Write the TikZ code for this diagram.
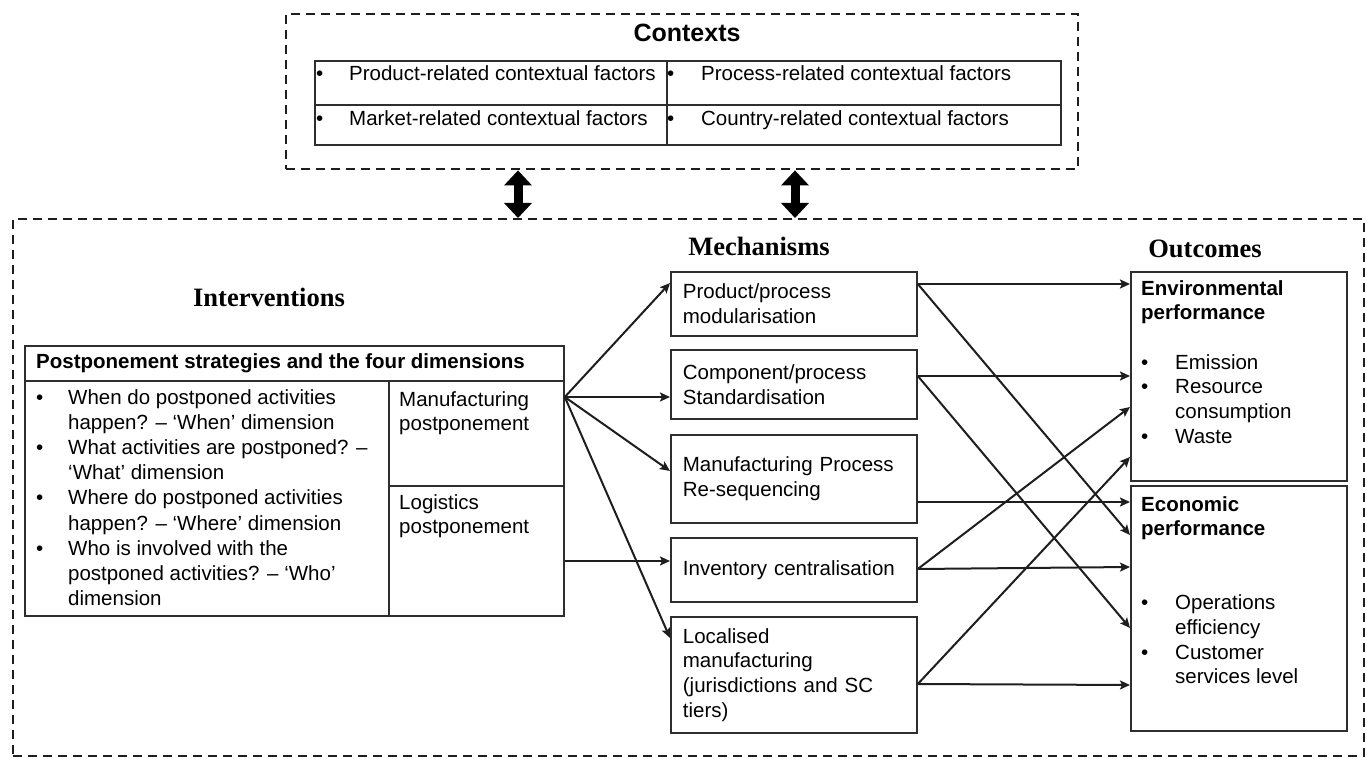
\documentclass[tikz,border=0pt]{standalone}
\usepackage{fontspec}
\setmainfont{Liberation Sans}
\newfontfamily\headserif{Liberation Serif}
\usetikzlibrary{arrows.meta}
\definecolor{ln}{HTML}{1E1E1E}
\definecolor{bx}{HTML}{2E2E2E}
\tikzset{
  cell/.style={draw=bx, line width=1.8pt, anchor=north west, inner sep=0pt},
  txt/.style={inner sep=0pt, font=\fontsize{20.5}{24.7}\selectfont, align=left, text=black},
  dashbox/.style={draw=ln, line width=2.4pt, dash pattern=on 9pt off 6pt, anchor=north west, inner sep=0pt},
  mech/.style={draw=bx, line width=1.8pt, anchor=north west, inner xsep=12pt, inner ysep=0pt,
    text width=222pt, align=left, font=\fontsize{20.5}{24.7}\selectfont, minimum width=246pt},
  arr/.style={draw=ln, line width=2pt, -{Stealth[length=10pt,width=9pt,inset=2pt]}},
  dbl/.style={draw=black, line width=9pt, {Triangle[width=27pt,length=15pt]}-{Triangle[width=27pt,length=15pt]}},
  heads/.style={font=\headserif\bfseries\fontsize{26.5}{30}\selectfont, inner sep=0pt, anchor=base},
}
\newcommand{\bul}[1]{\makebox[#1][l]{\textbullet}}
\begin{document}
\begin{tikzpicture}[x=1pt,y=-1pt]
\useasboundingbox (0,0) rectangle (1366,759);

% outer dashed boxes
\node[dashbox, minimum width=792pt, minimum height=155pt] (ctx) at (285,13) {};
\node[dashbox, minimum width=1351pt, minimum height=537pt] (main) at (12,218) {};

% contexts
\node[inner sep=0pt, anchor=base, font=\bfseries\fontsize{25}{30}\selectfont] (ctxtitle) at (687,42) {Contexts};
\node[cell, minimum width=352pt, minimum height=44pt] (c11) at (314,60) {};
\node[cell, minimum width=394pt, minimum height=44pt] (c12) at (666,60) {};
\node[cell, minimum width=352pt, minimum height=40pt] (c21) at (314,104) {};
\node[cell, minimum width=394pt, minimum height=40pt] (c22) at (666,104) {};
\node[txt, anchor=base west] (t11) at (316,81) {\bul{33pt}Product-related contextual factors};
\node[txt, anchor=base west] (t12) at (667,81) {\bul{34pt}Process-related contextual factors};
\node[txt, anchor=base west] (t21) at (316,126) {\bul{33pt}Market-related contextual factors};
\node[txt, anchor=base west] (t22) at (667,126) {\bul{34pt}Country-related contextual factors};

% double arrows
\draw[dbl] (ctx.south -| 518,0) -- (main.north -| 518,0);
\draw[dbl] (ctx.south -| 795,0) -- (main.north -| 795,0);

% headings
\node[heads] (hint) at (269,307) {Interventions};
\node[heads] (hmech) at (759,256) {Mechanisms};
\node[heads] (hout) at (1205,258) {Outcomes};

% interventions
\node[cell, minimum width=539pt, minimum height=35pt] (hdr) at (24,345) {};
\node[cell, minimum width=364pt, minimum height=235pt] (lcell) at (24,380) {};
\node[cell, minimum width=175pt, minimum height=105pt] (mpc) at (388,380) {};
\node[cell, minimum width=175pt, minimum height=130pt] (lpc) at (388,485) {};
\node[txt, anchor=base west, font=\bfseries\fontsize{20.5}{24.7}\selectfont] (hdrt) at (36,369) {Postponement strategies and the four dimensions};
\node[txt, anchor=north west, font=\fontsize{20.5}{25.2}\selectfont] (list) at (36,389) {%
\bul{32pt}When do postponed activities\\
\hspace*{32pt}happen? – ‘When’ dimension\\
\bul{32pt}What activities are postponed? –\\
\hspace*{32pt}‘What’ dimension\\
\bul{32pt}Where do postponed activities\\
\hspace*{32pt}happen? – ‘Where’ dimension\\
\bul{32pt}Who is involved with the\\
\hspace*{32pt}postponed activities? – ‘Who’\\
\hspace*{32pt}dimension};
\node[txt, anchor=north west] (mpt) at (399,391) {Manufacturing\\postponement};
\node[txt, anchor=north west] (lpt) at (399,494) {Logistics\\postponement};

% mechanisms
\node[mech, minimum height=64pt] (m1) at (670,271) {Product/process\\modularisation};
\node[mech, minimum height=69pt] (m2) at (670,349) {Component/process\\Standardisation};
\node[mech, minimum height=88pt] (m3) at (670,434) {Manufacturing Process\\Re-sequencing};
\node[mech, minimum height=64pt] (m4) at (670,537) {Inventory centralisation};
\node[mech, minimum height=116pt] (m5) at (670,616) {Localised\\manufacturing\\(jurisdictions and SC\\tiers)};

% outcomes
\node[cell, minimum width=216pt, minimum height=209pt] (env) at (1130,271) {};
\node[cell, minimum width=216pt, minimum height=245pt] (econ) at (1130,485) {};
\node[txt, anchor=north west] (envt) at (1141,280) {%
\textbf{Environmental}\\
\textbf{performance}\\[24.7pt]
\bul{34pt}Emission\\
\bul{34pt}Resource\\
\hspace*{34pt}consumption\\
\bul{34pt}Waste};
\node[txt, anchor=north west] (econt) at (1141,496) {%
\textbf{Economic}\\
\textbf{performance}\\[49.4pt]
\bul{34pt}Operations\\
\hspace*{34pt}efficiency\\
\bul{34pt}Customer\\
\hspace*{34pt}services level};

% arrows interventions -> mechanisms
\draw[arr] (mpc.east |- 0,397) -- (m1.west |- 0,283);
\draw[arr] (mpc.east |- 0,397) -- (m2.west |- 0,397);
\draw[arr] (mpc.east |- 0,397) -- (m3.west |- 0,471);
\draw[arr] (mpc.east |- 0,397) -- (m5.west |- 0,638);
\draw[arr] (lpc.east |- 0,561) -- (m4.west |- 0,561);

% arrows mechanisms -> outcomes
\draw[arr] (m1.east |- 0,284) -- (env.west |- 0,284);
\draw[arr] (m1.east |- 0,284) -- (econ.west |- 0,535);
\draw[arr] (m2.east |- 0,376) -- (env.west |- 0,376);
\draw[arr] (m2.east |- 0,376) -- (econ.west |- 0,628);
\draw[arr] (m3.east |- 0,502) -- (econ.west |- 0,502);
\draw[arr] (m4.east |- 0,569) -- (env.west |- 0,407);
\draw[arr] (m4.east |- 0,569) -- (econ.west |- 0,567);
\draw[arr] (m5.east |- 0,684) -- (env.west |- 0,457);
\draw[arr] (m5.east |- 0,684) -- (econ.west |- 0,685);
\end{tikzpicture}
\end{document}
